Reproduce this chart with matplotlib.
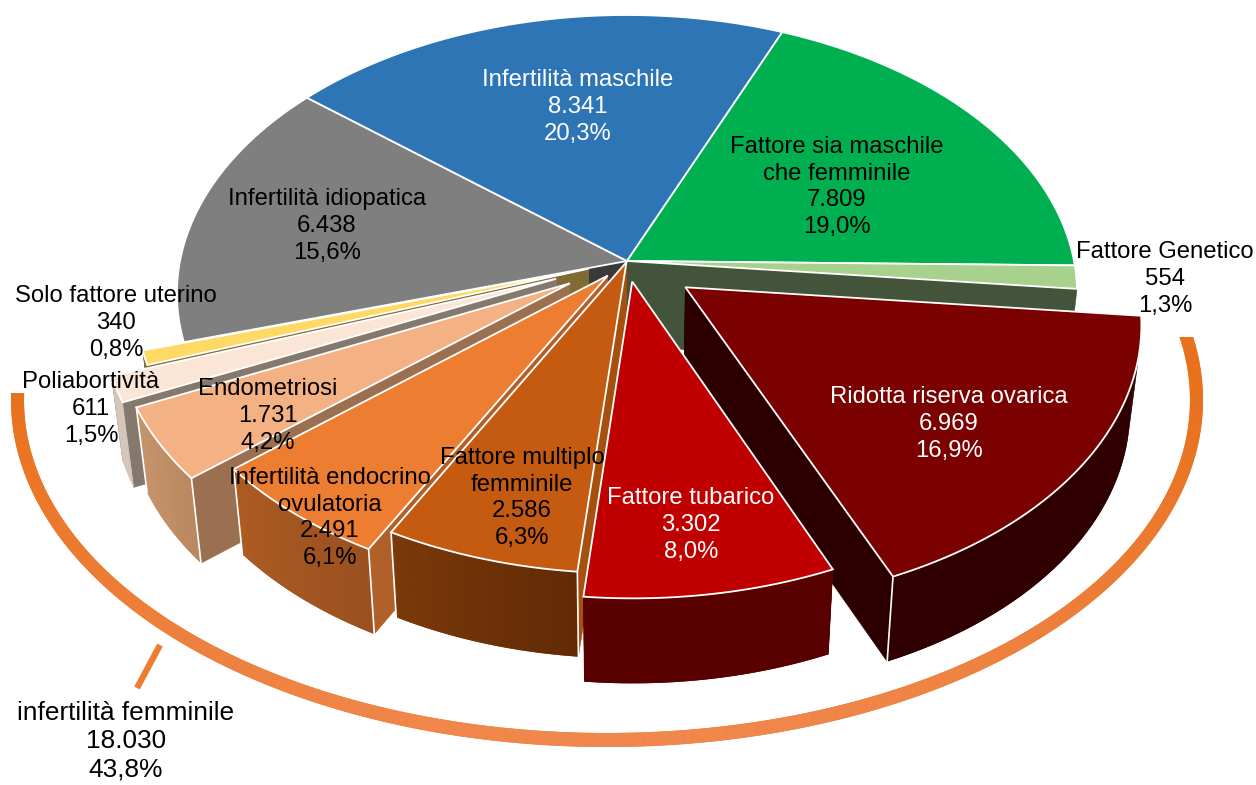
import numpy as np
import matplotlib
matplotlib.use('Agg')
import matplotlib.pyplot as plt
from matplotlib.patches import Polygon
from matplotlib.colors import to_rgb

plt.rcParams['font.family'] = ['Liberation Sans', 'DejaVu Sans']

# data, clockwise starting from the blue slice
names = ['Infertilità maschile', 'Fattore sia maschile\nche femminile', 'Fattore Genetico',
         'Ridotta riserva ovarica', 'Fattore tubarico', 'Fattore multiplo\nfemminile',
         'Infertilità endocrino\novulatoria', 'Endometriosi', 'Poliabortività',
         'Solo fattore uterino', 'Infertilità idiopatica']
values = [8341, 7809, 554, 6969, 3302, 2586, 2491, 1731, 611, 340, 6438]
pct_labels = ['20,3%', '19,0%', '1,3%', '16,9%', '8,0%', '6,3%', '6,1%', '4,2%', '1,5%', '0,8%', '15,6%']
female_idx = [3, 4, 5, 6, 7, 8, 9]
female_name = 'infertilità femminile'
female_pct = '43,8%'

# style
explode = [0, 0, 0, 0.16, 0.075, 0.004, 0.068, 0.15, 0.17, 0.09, 0]
top_col = ['#2e75b6', '#00b050', '#a9d18e', '#7b0000', '#c00000', '#c55a11', '#ed7d31', '#f4b183', '#fbe5d6',
           '#ffd966', '#7f7f7f']
wall_a = ['#1f4e79', '#006e32', '#43543a', '#300000', '#580000', '#7a3a0a', '#ad5c22', '#c9956c', '#d4c6ba',
          '#7f6b33', '#3a3a3a']
wall_b = ['#1f4e79', '#006e32', '#43543a', '#300000', '#580000', '#622a06', '#9a5020', '#b98860', '#d4c6ba',
          '#7f6b33', '#3a3a3a']
side_col = ['#1f4e79', '#006e32', '#43543a', '#2c0000', '#580000', '#a5500f', '#b06028', '#9a7050', '#85796d',
            '#7f6b33', '#3a3a3a']
txt_col = ['white', 'black', 'black', 'white', 'white', 'black', 'black', 'black', 'black', 'black', 'black']
txt_pos = [(578, 107), (837, 187), (1165, 279), (949, 424), (691, 525), (522, 498), (330, 518), (268, 416),
           (91, 409), (116, 323), (327, 226)]
start_angle = -50.3
cx, cy = 627, 261
A, B, k = 274.7, 447, 0.1167
depth, shrink = 85, 0.978
fs = 17.2


def fmt(n):
    return f'{n:,}'.replace(',', '.')


def project(u, v, low=False):
    den = 1 + k * v
    x = cx + B * u / den
    y = cy - A * v / den
    if low:
        x = cx + (x - cx) * shrink
        y = y + depth
    return x, y


def rim(a, off, low=False):
    r = np.radians(a)
    return project(np.sin(r) + off[0], np.cos(r) + off[1], low)


def mix(c1, c2, t):
    c1, c2 = np.array(to_rgb(c1)), np.array(to_rgb(c2))
    return tuple(c1 + (c2 - c1) * t)


fig = plt.figure(figsize=(12.56, 7.85), dpi=100)
ax = fig.add_axes([0, 0, 1, 1])
ax.set_xlim(0, 1256)
ax.set_ylim(785, 0)
ax.axis('off')

# ring round the female group, both ends cut flat
out_t = np.linspace(np.arcsin(-63 / 347), np.pi + np.arcsin(7 / 347), 240)
in_t = np.linspace(np.arcsin(-63 / 333), np.pi + np.arcsin(7 / 333), 240)
ox, oy = 607 + 596 * np.cos(out_t), 400 + 347 * np.sin(out_t)
ix, iy = 607 + 583 * np.cos(in_t), 400 + 333 * np.sin(in_t)
ring = list(zip(ox, oy)) + list(zip(ix[::-1], iy[::-1]))
ax.add_patch(Polygon(ring, closed=True, fc='#ec7b30', ec='none', zorder=1))
for i in range(len(out_t) - 1):
    p = [(ox[i], oy[i]), (ox[i + 1], oy[i + 1]), (ix[i + 1], iy[i + 1]), (ix[i], iy[i])]
    c = mix('#e8711c', '#f0874c', max(0, np.sin(out_t[i])))
    ax.add_patch(Polygon(p, closed=True, fc=c, ec='none', zorder=1.1))
ax.plot([160, 137], [645, 688], color='#ed7d31', lw=4.5, solid_capstyle='butt', zorder=1)

# slice angles from the values
fr = np.array(values) / sum(values) * 360
a0 = start_angle + np.concatenate([[0], np.cumsum(fr)[:-1]])
a1 = a0 + fr
off = []
for i in range(len(values)):
    m = np.radians((a0[i] + a1[i]) / 2)
    off.append((explode[i] * np.sin(m), explode[i] * np.cos(m)))


def draw_side(i, a):
    o = off[i]
    p = [project(o[0], o[1]), rim(a, o), rim(a, o, True), project(o[0], o[1], True)]
    ax.add_patch(Polygon(p, closed=True, fc=side_col[i], ec=side_col[i], lw=0.4, zorder=z[0]))
    z[0] += 0.01


def draw_wall(i):
    angs = np.linspace(a0[i], a1[i], 40)
    # one full piece below so the gradient strips leave no seams
    base = [rim(a, off[i]) for a in angs] + [rim(a, off[i], True) for a in angs[::-1]]
    ax.add_patch(Polygon(base, closed=True, fc=mix(wall_a[i], wall_b[i], 0.5), ec='none', zorder=z[0]))
    z[0] += 0.01
    for j in range(len(angs) - 1):
        p = [rim(angs[j], off[i]), rim(angs[j + 1], off[i]), rim(angs[j + 1], off[i], True), rim(angs[j], off[i], True)]
        c = mix(wall_b[i], wall_a[i], j / (len(angs) - 2))
        ax.add_patch(Polygon(p, closed=True, fc=c, ec='none', zorder=z[0]))
    z[0] += 0.01


def draw_top(i):
    angs = np.linspace(a0[i], a1[i], 80)
    p = [project(off[i][0], off[i][1])] + [rim(a, off[i]) for a in angs]
    ax.add_patch(Polygon(p, closed=True, fc=top_col[i], ec='white', lw=1.3, joinstyle='miter', zorder=z[0]))
    z[0] += 0.01


def corner(i, a):
    x0, y0 = rim(a, off[i])
    x1, y1 = rim(a, off[i], True)
    ax.plot([x0, x1], [y0, y1], color='white', lw=1.2, zorder=z[0])
    z[0] += 0.01


z = [2]
# back part, not pulled out
draw_side(10, a0[10])
draw_side(2, a1[2])
for i in [10, 0, 1, 2]:
    draw_top(i)

# pulled out slices, back to front
for i in [9, 8, 7, 6, 5, 3, 4]:
    draw_side(i, a0[i])
    draw_side(i, a1[i])
    draw_wall(i)
    if i in [5, 6, 7]:
        corner(i, a0[i])
        corner(i, a1[i])
    if i == 3:
        corner(i, a1[i])
    draw_top(i)

for i in range(len(values)):
    ax.text(txt_pos[i][0], txt_pos[i][1], f'{names[i]}\n{fmt(values[i])}\n{pct_labels[i]}', color=txt_col[i],
            fontsize=fs, ha='center', va='center', linespacing=1.28, zorder=10)
female_total = sum(values[i] for i in female_idx)
ax.text(126, 741, f'{female_name}\n{fmt(female_total)}\n{female_pct}', color='black', fontsize=18.9,
        ha='center', va='center', linespacing=1.22, zorder=10)

fig.savefig('out.png', dpi=100, facecolor='white')
